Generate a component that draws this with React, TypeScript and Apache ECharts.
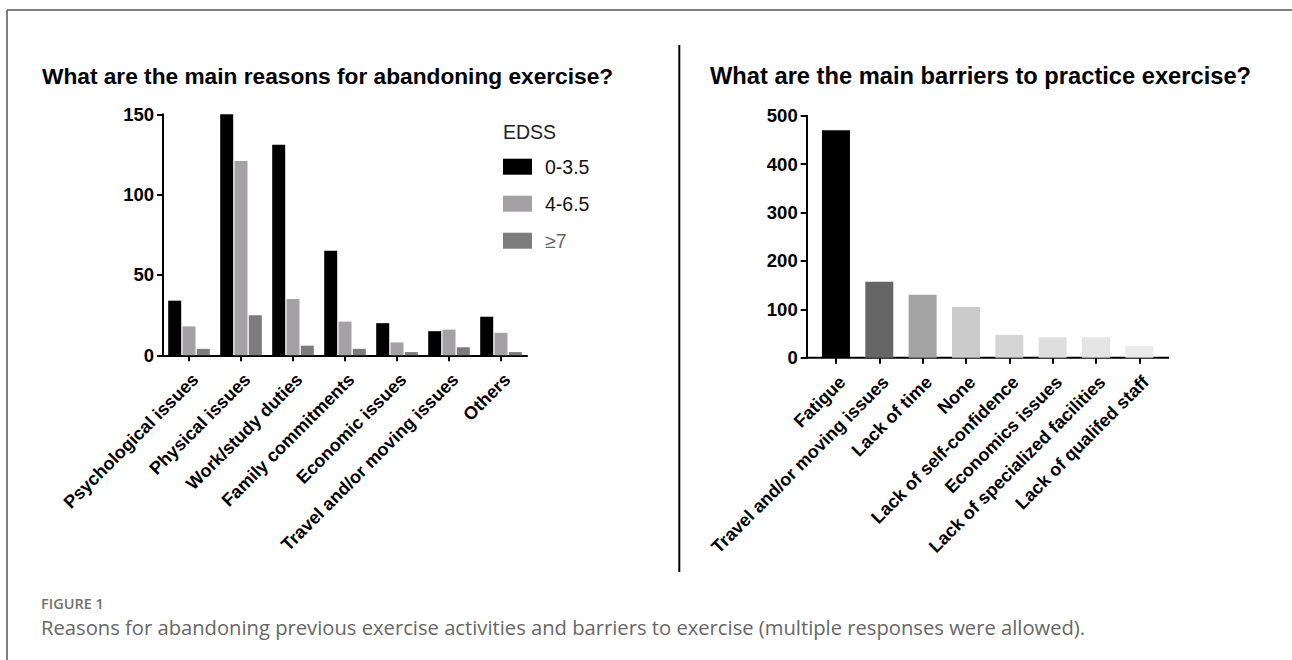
import React, { useEffect, useRef } from "react";
import * as echarts from "echarts";

// ---- Data ----
const REASON_CATEGORIES = [
  "Psychological issues",
  "Physical issues",
  "Work/study duties",
  "Family commitments",
  "Economic issues",
  "Travel and/or moving issues",
  "Others",
];
const EDSS_GROUPS = ["0-3.5", "4-6.5", "≥7"];
const EDSS_LOW = [34, 150, 131, 65, 20, 15, 24];
const EDSS_MID = [18, 121, 35, 21, 8, 16, 14];
const EDSS_HIGH = [4, 25, 6, 4, 2, 5, 2];
const REASON_AXIS = { min: 0, max: 150, interval: 50 };

const BARRIER_CATEGORIES = [
  "Fatigue",
  "Travel and/or moving issues",
  "Lack of time",
  "None",
  "Lack of self-confidence",
  "Economics issues",
  "Lack of specialized facilities",
  "Lack of qualifed staff",
];
const BARRIER_VALUES = [470, 157, 130, 105, 47, 42, 42, 24];
const BARRIER_AXIS = { min: 0, max: 500, interval: 100 };

const LEFT_TITLE = "What are the main reasons for abandoning exercise?";
const RIGHT_TITLE = "What are the main barriers to practice exercise?";
const LEGEND_TITLE = "EDSS";
const FIG_LABEL = "FIGURE 1";
const FIG_CAPTION =
  "Reasons for abandoning previous exercise activities and barriers to exercise (multiple responses were allowed).";

// ---- Styles ----
const EDSS_COLORS = ["#000000", "#a3a1a4", "#7d7c7d"];
const BARRIER_COLORS = ["#000000", "#666666", "#a3a3a3", "#cbcbcb", "#d4d4d4", "#dedede", "#e4e4e4", "#eaeaea"];
const FONT = "Liberation Sans, Arial, Helvetica, sans-serif";
const CAP_FONT = "Open Sans, Noto Sans, sans-serif";

const LG = { left: 163, top: 114.3, width: 364, height: 241 };
const RG = { left: 814.3, top: 115.7, width: 346.7, height: 242 };
const R_AXIS_START = 806.7;
const R_AXIS_END = 1169;

const axisLineStyle = { color: "#000", width: 2 };

function valueAxis(gridIndex: number, cfg: { min: number; max: number; interval: number }, offset = 0) {
  return {
    type: "value",
    gridIndex,
    min: cfg.min,
    max: cfg.max,
    interval: cfg.interval,
    offset,
    splitLine: { show: false },
    axisLine: { show: true, lineStyle: axisLineStyle },
    axisTick: { show: true, length: 6, lineStyle: { color: "#000", width: 2 } },
    axisLabel: {
      margin: 9,
      color: "#000",
      fontSize: 18.5,
      fontWeight: "bold",
      fontFamily: FONT,
    },
  };
}

function categoryAxis(gridIndex: number, data: string[], showLine: boolean) {
  return {
    type: "category",
    gridIndex,
    data,
    boundaryGap: true,
    axisLine: { show: showLine, lineStyle: axisLineStyle },
    axisTick: { show: true, alignWithLabel: true, length: 6, lineStyle: { color: "#000", width: 2 } },
    axisLabel: {
      interval: 0,
      rotate: 45,
      margin: 15,
      verticalAlign: "top",
      color: "#000",
      fontSize: 18,
      fontWeight: "bold",
      fontFamily: FONT,
    },
  };
}

export default function App() {
  const ref = useRef<HTMLDivElement>(null);

  useEffect(() => {
    document.body.style.margin = "0";
    if (!ref.current) return;
    const chart = echarts.init(ref.current, undefined, { renderer: "svg" });
    const reasonSeries = [EDSS_LOW, EDSS_MID, EDSS_HIGH];
    const option: any = {
      animation: false,
      backgroundColor: "#ffffff",
      grid: [
        { ...LG, containLabel: false, outerBoundsMode: "none" },
        { ...RG, containLabel: false, outerBoundsMode: "none" },
      ],
      xAxis: [categoryAxis(0, REASON_CATEGORIES, true), categoryAxis(1, BARRIER_CATEGORIES, false)],
      yAxis: [valueAxis(0, REASON_AXIS), valueAxis(1, BARRIER_AXIS, RG.left - R_AXIS_START)],
      legend: {
        orient: "vertical",
        left: 503,
        top: 156.7,
        padding: 0,
        icon: "rect",
        itemWidth: 29,
        itemHeight: 16,
        itemGap: 17,
        selectedMode: false,
        textStyle: {
          fontSize: 19.5,
          color: "#111",
          fontFamily: FONT,
          lineHeight: 16,
          padding: [0, 0, 0, 8],
        },
        data: EDSS_GROUPS.map((g, i) =>
          i === 2 ? { name: g, textStyle: { color: "#666" } } : { name: g }
        ),
      },
      series: [
        ...reasonSeries.map((vals, i) => ({
          type: "bar",
          name: EDSS_GROUPS[i],
          xAxisIndex: 0,
          yAxisIndex: 0,
          barWidth: 13,
          barGap: "10%",
          itemStyle: { color: EDSS_COLORS[i] },
          data: vals,
        })),
        {
          type: "bar",
          name: "Barriers",
          xAxisIndex: 1,
          yAxisIndex: 1,
          barWidth: 28,
          data: BARRIER_VALUES.map((v, i) => ({ value: v, itemStyle: { color: BARRIER_COLORS[i] } })),
        },
      ],
      graphic: [
        { type: "line", shape: { x1: 7, y1: 10, x2: 1292, y2: 10 }, style: { stroke: "#555", lineWidth: 1.5 } },
        { type: "line", shape: { x1: 7, y1: 10, x2: 7, y2: 660 }, style: { stroke: "#555", lineWidth: 1.5 } },
        { type: "line", shape: { x1: 679.3, y1: 45, x2: 679.3, y2: 572 }, style: { stroke: "#000", lineWidth: 2 } },
        {
          type: "line",
          shape: { x1: R_AXIS_START - 1, y1: RG.top + RG.height, x2: R_AXIS_END, y2: RG.top + RG.height },
          style: { stroke: "#000", lineWidth: 2 },
        },
        {
          type: "text",
          x: 42,
          y: 76,
          style: { text: LEFT_TITLE, fontSize: 22.7, fontWeight: "bold", fontFamily: FONT, fill: "#000", verticalAlign: "middle" },
        },
        {
          type: "text",
          x: 710,
          y: 76,
          style: { text: RIGHT_TITLE, fontSize: 23.7, fontWeight: "bold", fontFamily: FONT, fill: "#000", verticalAlign: "middle" },
        },
        {
          type: "text",
          x: 503,
          y: 131.5,
          style: { text: LEGEND_TITLE, fontSize: 19.5, fontFamily: FONT, fill: "#222", verticalAlign: "middle" },
        },
        {
          type: "text",
          x: 41,
          y: 603,
          style: { text: FIG_LABEL, fontSize: 14.5, fontWeight: 600, fontFamily: CAP_FONT, fill: "#707070", verticalAlign: "middle" },
        },
        {
          type: "text",
          x: 41,
          y: 627,
          style: { text: FIG_CAPTION, fontSize: 20.2, fontFamily: CAP_FONT, fill: "#666", verticalAlign: "middle" },
        },
      ],
    };
    chart.setOption(option);
    return () => chart.dispose();
  }, []);

  return (
    <div
      ref={ref}
      style={{ position: "absolute", left: 0, top: 0, width: 1292, height: 660, background: "#fff" }}
    />
  );
}
